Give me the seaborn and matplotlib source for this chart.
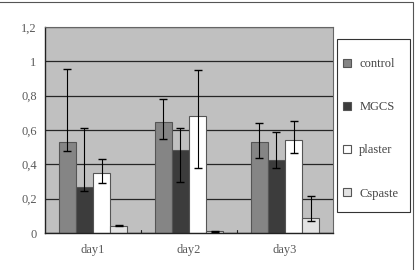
import matplotlib
matplotlib.use("Agg")
import matplotlib.pyplot as plt
import seaborn as sns
import pandas as pd
import numpy as np
from matplotlib.patches import Rectangle, Patch

days = ["day1", "day2", "day3"]
series = ["control", "MGCS", "plaster", "Cspaste"]
control = [0.528, 0.645, 0.528]
mgcs = [0.27, 0.483, 0.425]
plaster = [0.348, 0.683, 0.54]
cspaste = [0.04, 0.01, 0.085]
control_lo = [0.48, 0.547, 0.439]
control_hi = [0.957, 0.779, 0.639]
mgcs_lo = [0.245, 0.295, 0.377]
mgcs_hi = [0.613, 0.61, 0.59]
plaster_lo = [0.29, 0.38, 0.464]
plaster_hi = [0.431, 0.95, 0.652]
cspaste_lo = [0.04, 0.008, 0.07]
cspaste_hi = [0.048, 0.012, 0.217]
yticks = [0, 0.2, 0.4, 0.6, 0.8, 1.0, 1.2]
ytick_labels = ["0", "0,2", "0,4", "0,6", "0,8", "1", "1,2"]

colors = ["#858585", "#3c3c3c", "#ffffff", "#e3e3e3"]

sns.set_style("white")
plt.rcParams["font.family"] = ["Liberation Serif", "DejaVu Serif"]

vals = [control, mgcs, plaster, cspaste]
los = [control_lo, mgcs_lo, plaster_lo, cspaste_lo]
his = [control_hi, mgcs_hi, plaster_hi, cspaste_hi]
rows = []
for s, v in zip(series, vals):
    for d, x in zip(days, v):
        rows.append({"day": d, "series": s, "value": x})
df = pd.DataFrame(rows)

fig = plt.figure(figsize=(4.19, 2.70), dpi=100)
ax = fig.add_axes([45/419, 37/270, 288/419, 206/270])
ax.set_facecolor("#c0c0c0")

sns.barplot(data=df, x="day", y="value", hue="series", hue_order=series,
            order=days, palette=colors, width=0.71, ax=ax, errorbar=None,
            edgecolor="#555555", linewidth=0.8, saturation=1, legend=False)

bars = [p for p in ax.patches]
for si in range(len(series)):
    for di in range(len(days)):
        p = bars[si * len(days) + di]
        xc = p.get_x() + p.get_width() / 2
        v = vals[si][di]
        lo = v - los[si][di]
        hi = his[si][di] - v
        ax.errorbar(xc, v, yerr=[[lo], [hi]], fmt="none", ecolor="black",
                    elinewidth=0.8, capsize=3, capthick=1.0, zorder=5)

ax.set_ylim(0, 1.2)
ax.set_xlim(-0.5, 2.5)
ax.set_yticks(yticks)
ax.set_yticklabels(ytick_labels)
ax.yaxis.grid(True, color="#262626", linewidth=0.9)
ax.set_axisbelow(True)
ax.set_xlabel("")
ax.set_ylabel("")
ax.tick_params(axis="both", labelsize=9, length=0, pad=6)
ax.tick_params(axis="x", pad=8)
for t in ax.get_xticklabels() + ax.get_yticklabels():
    t.set_color("#5a5a5a")
for sp in ["top", "right"]:
    ax.spines[sp].set_color("#666666")
    ax.spines[sp].set_linewidth(0.8)
for sp in ["left", "bottom"]:
    ax.spines[sp].set_color("#222222")
    ax.spines[sp].set_linewidth(1.0)
for xb in [0.5, 1.5]:
    ax.plot([xb, xb], [0, 0.02], color="#222222", linewidth=0.8, zorder=6, clip_on=False)

# legend (entries without frame) + separate frame box
handles = [Patch(facecolor=c, edgecolor="#555555", linewidth=0.8) for c in colors]
leg = fig.legend(handles, series, loc="upper left",
                 bbox_to_anchor=(343/419, 1 - 58/270), bbox_transform=fig.transFigure,
                 frameon=False, fontsize=9, handlelength=0.6, handleheight=0.6,
                 labelspacing=2.5, borderpad=0, handletextpad=0.7,
                 borderaxespad=0)
for t in leg.get_texts():
    t.set_color("#444444")
fig.patches.append(Rectangle((337/419, 1 - 212/270), 73/419, 173/270,
                             transform=fig.transFigure, fill=False,
                             edgecolor="#333333", linewidth=0.8))

# outer frame
fig.patches.append(Rectangle((-0.01, -0.05), 413/419 + 0.01, 1 - 2/270 + 0.05,
                             transform=fig.transFigure, fill=False,
                             edgecolor="#555555", linewidth=0.8))

fig.savefig("out.png", dpi=100)
